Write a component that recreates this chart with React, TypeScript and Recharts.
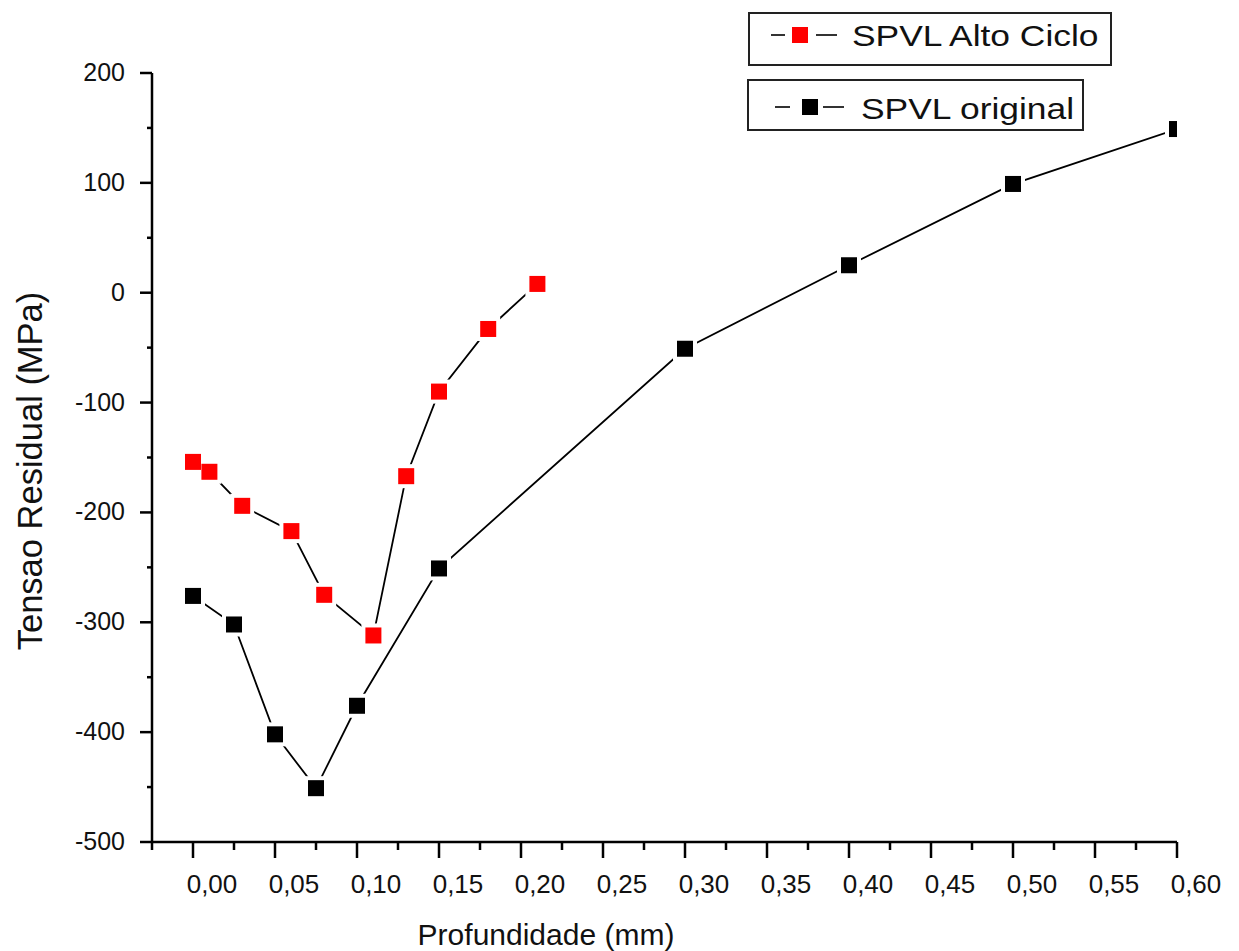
import React from 'react';
import { LineChart, Line, XAxis, YAxis, Legend } from 'recharts';

// Residual stress profiles (MPa) against depth (mm)
const altoCicloDepth = [0, 0.01, 0.03, 0.06, 0.08, 0.11, 0.13, 0.15, 0.18, 0.21];
const altoCicloStress = [-154, -163, -194, -217, -275, -312, -167, -90, -33, 8];

const originalDepth = [0, 0.025, 0.05, 0.075, 0.1, 0.15, 0.3, 0.4, 0.5, 0.6];
const originalStress = [-276, -302, -402, -451, -376, -251, -51, 25, 99, 149];

// Tick positions: every other one carries a label
const depthTicks = [
  -0.025, 0, 0.025, 0.05, 0.075, 0.1, 0.125, 0.15, 0.175, 0.2, 0.225, 0.25, 0.275,
  0.3, 0.325, 0.35, 0.375, 0.4, 0.425, 0.45, 0.475, 0.5, 0.525, 0.55, 0.575, 0.6,
];
const stressTicks = [-500, -450, -400, -350, -300, -250, -200, -150, -100, -50, 0, 50, 100, 150, 200];

const SERIES_ALTO = 'SPVL Alto Ciclo';
const SERIES_ORIGINAL = 'SPVL original';
const X_TITLE = 'Profundidade (mm)';
const Y_TITLE = 'Tensao Residual (MPa)';

const altoCiclo = altoCicloDepth.map((x, i) => ({ x, y: altoCicloStress[i] }));
const original = originalDepth.map((x, i) => ({ x, y: originalStress[i] }));

const FONT = '"Liberation Sans", Arial, Helvetica, sans-serif';
const MARK = 16;
const HALO = 4;

const isMajorDepth = (v: number) => v >= -1e-9 && Math.abs(v * 20 - Math.round(v * 20)) < 1e-6;
const isMajorStress = (v: number) => v % 100 === 0;

function DepthTick(props: any) {
  const { x, y, payload } = props;
  const v = payload.value as number;
  const major = isMajorDepth(v);
  return (
    <g>
      <line x1={x} x2={x} y1={y} y2={y + (major ? 16 : 8)} stroke="#000" strokeWidth={2.5} />
      {major && (
        <text
          x={x + 19}
          y={y + 51}
          textAnchor="middle"
          fontSize={26}
          fontFamily={FONT}
          fill="#111"
        >
          {v.toFixed(2).replace('.', ',')}
        </text>
      )}
    </g>
  );
}

function StressTick(props: any) {
  const { x, y, payload } = props;
  const v = payload.value as number;
  const major = isMajorStress(v);
  return (
    <g>
      <line x1={x - (major ? 12 : 5)} x2={x} y1={y} y2={y} stroke="#000" strokeWidth={2.5} />
      {major && (
        <text x={x - 27} y={y + 8} textAnchor="end" fontSize={25} fontFamily={FONT} fill="#111">
          {String(v)}
        </text>
      )}
    </g>
  );
}

function XTitle() {
  return (
    <text x={546} y={945} textAnchor="middle" fontSize={30} fontFamily={FONT} fill="#111">
      {X_TITLE}
    </text>
  );
}

function YTitle() {
  return (
    <text
      transform="translate(42,471) rotate(-90)"
      textAnchor="middle"
      fontSize={34.5}
      fontFamily={FONT}
      fill="#111"
    >
      {Y_TITLE}
    </text>
  );
}

// White square behind each marker so the connecting line stops short of it
const haloDot = (props: any) => {
  const { cx, cy, index } = props;
  if (cx == null || cy == null) return <g key={`h-${index}`} />;
  const s = MARK + 2 * HALO;
  return <rect key={`h-${index}`} x={cx - s / 2} y={cy - s / 2} width={s} height={s} fill="#fff" />;
};

const squareDot = (color: string) => (props: any) => {
  const { cx, cy, index } = props;
  if (cx == null || cy == null) return <g key={`m-${index}`} />;
  return (
    <rect key={`m-${index}`} x={cx - MARK / 2} y={cy - MARK / 2} width={MARK} height={MARK} fill={color} />
  );
};

function LegendBox(props: {
  left: number;
  top: number;
  width: number;
  height: number;
  color: string;
  label: string;
  lineA: [number, number];
  mark: number;
  lineB: [number, number];
  cy: number;
  textX: number;
  baseline: number;
}) {
  const { left, top, width, height, color, label, lineA, mark, lineB, cy, textX, baseline } = props;
  return (
    <svg
      width={width}
      height={height}
      style={{ position: 'absolute', left, top, overflow: 'visible' }}
    >
      <rect x={1} y={1} width={width - 2} height={height - 2} fill="#fff" stroke="#222" strokeWidth={2} />
      <line x1={lineA[0]} x2={lineA[1]} y1={cy} y2={cy} stroke="#333" strokeWidth={2} />
      <rect x={mark} y={cy - MARK / 2} width={MARK} height={MARK} fill={color} />
      <line x1={lineB[0]} x2={lineB[1]} y1={cy} y2={cy} stroke="#333" strokeWidth={2} />
      <text
        transform={`translate(${textX},${baseline}) scale(1.18,1)`}
        fontSize={30}
        fontFamily={FONT}
        fill="#111"
      >
        {label}
      </text>
    </svg>
  );
}

function LegendContent() {
  return (
    <div style={{ position: 'relative', width: 0, height: 0 }}>
      <LegendBox
        left={748}
        top={12}
        width={364}
        height={54}
        color="#ff0000"
        label={SERIES_ALTO}
        lineA={[23, 37]}
        mark={44}
        lineB={[68, 89]}
        cy={23}
        textX={104}
        baseline={34}
      />
      <LegendBox
        left={747}
        top={79}
        width={337}
        height={52}
        color="#000"
        label={SERIES_ORIGINAL}
        lineA={[28, 43]}
        mark={55}
        lineB={[76, 97]}
        cy={28}
        textX={114}
        baseline={40}
      />
    </div>
  );
}

export default function App() {
  return (
    <div style={{ position: 'absolute', left: 0, top: 0, width: 1239, height: 951, background: '#fff' }}>
      <LineChart
        width={1239}
        height={951}
        margin={{ top: 73, right: 62, bottom: 49, left: 92 }}
      >
        <XAxis
          dataKey="x"
          type="number"
          domain={[-0.025, 0.6]}
          ticks={depthTicks}
          interval={0}
          allowDataOverflow
          height={60}
          tickSize={0}
          tickMargin={0}
          tickLine={false}
          tick={<DepthTick />}
          axisLine={{ stroke: '#000', strokeWidth: 2.5 }}
          label={<XTitle />}
        />
        <YAxis
          type="number"
          domain={[-500, 200]}
          ticks={stressTicks}
          interval={0}
          width={60}
          tickSize={0}
          tickMargin={0}
          tickLine={false}
          tick={<StressTick />}
          axisLine={{ stroke: '#000', strokeWidth: 2.5 }}
          label={<YTitle />}
        />
        <Legend
          layout="horizontal"
          verticalAlign="middle"
          align="center"
          wrapperStyle={{ position: 'absolute', left: 0, top: 0, width: 0, height: 0 }}
          content={() => <LegendContent />}
        />
        <Line
          data={altoCiclo}
          dataKey="y"
          name={SERIES_ALTO}
          stroke="#000"
          strokeWidth={1.8}
          dot={haloDot}
          activeDot={false}
          legendType="none"
          isAnimationActive={false}
        />
        <Line
          data={original}
          dataKey="y"
          name={SERIES_ORIGINAL}
          stroke="#000"
          strokeWidth={1.8}
          dot={haloDot}
          activeDot={false}
          legendType="none"
          isAnimationActive={false}
        />
        <Line
          data={altoCiclo}
          dataKey="y"
          name={`${SERIES_ALTO} marcadores`}
          stroke="none"
          dot={squareDot('#ff0000')}
          activeDot={false}
          legendType="none"
          isAnimationActive={false}
        />
        <Line
          data={original}
          dataKey="y"
          name={`${SERIES_ORIGINAL} marcadores`}
          stroke="none"
          dot={squareDot('#000')}
          activeDot={false}
          legendType="none"
          isAnimationActive={false}
        />
      </LineChart>
    </div>
  );
}
